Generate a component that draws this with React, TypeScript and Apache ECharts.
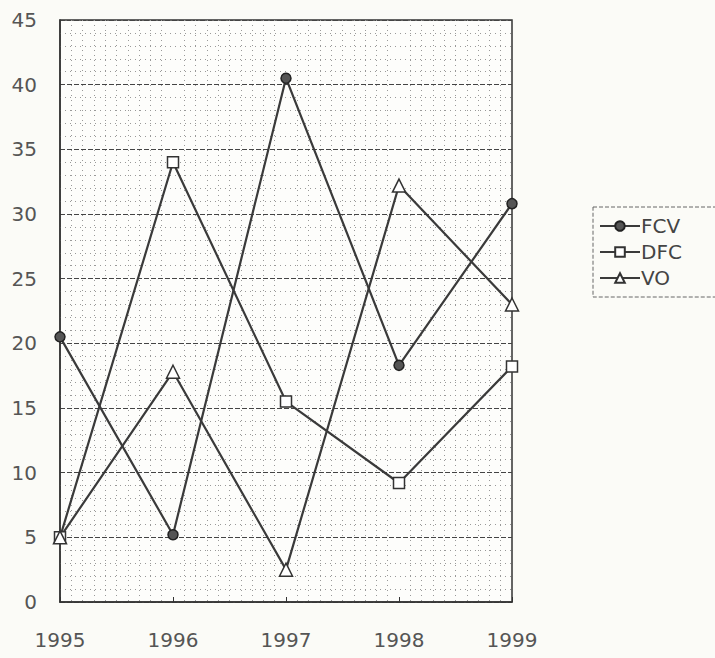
import React, { useEffect, useRef } from "react";
import * as echarts from "echarts";

const years = [1995, 1996, 1997, 1998, 1999];
const fcv = [20.5, 5.2, 40.5, 18.3, 30.8];
const dfc = [5.0, 34.0, 15.5, 9.2, 18.2];
const vo = [5.0, 17.8, 2.5, 32.2, 23.0];

const pairs = (vals: number[]) => years.map((y, i) => [y, vals[i]]);

export default function App() {
  const ref = useRef<HTMLDivElement>(null);
  useEffect(() => {
    if (!ref.current) return;
    const chart = echarts.init(ref.current, null, { renderer: "svg" });
    const lineColor = "#3a3a3a";
    const font = "'DejaVu Sans', 'Liberation Sans', sans-serif";
    chart.setOption({
      animation: false,
      backgroundColor: "#fbfbf7",
      grid: {
        left: 60,
        right: 203,
        top: 20,
        bottom: 56,
        show: true,
        borderColor: "#333",
        borderWidth: 1.5,
        backgroundColor: "#fdfdfb",
      },
      legend: {
        orient: "vertical",
        left: 593,
        top: 207,
        padding: [9, 60, 9, 6],
        itemGap: 6,
        itemWidth: 40,
        itemHeight: 12,
        borderColor: "#666",
        borderWidth: 1,
        borderType: "dashed",
        textStyle: { fontFamily: font, fontSize: 20, color: "#444", padding: [0, 0, 0, -4] },
        data: ["FCV", "DFC", "VO"],
      },
      xAxis: {
        type: "value",
        min: 1995,
        max: 1999,
        interval: 1,
        axisLine: { show: true, lineStyle: { color: "#333", width: 1.5 } },
        axisTick: { show: true, inside: true, length: 5, lineStyle: { color: "#333" } },
        axisLabel: {
          fontFamily: font,
          fontSize: 20,
          color: "#555",
          margin: 28,
          formatter: (v: number) => String(v),
        },
        splitLine: { show: false },
        minorTick: { show: false, splitNumber: 10 },
        minorSplitLine: { show: true, lineStyle: { color: "#999", type: [1, 4], width: 1 } },
      },
      yAxis: {
        type: "value",
        min: 0,
        max: 45,
        interval: 5,
        axisLine: { show: true, lineStyle: { color: "#333", width: 1.5 } },
        axisTick: { show: false },
        axisLabel: { fontFamily: font, fontSize: 20, color: "#555", margin: 23 },
        splitLine: { show: true, lineStyle: { color: "#444", type: [5, 2], width: 1 } },
        minorTick: { show: false, splitNumber: 5 },
        minorSplitLine: { show: true, lineStyle: { color: "#999", type: [1, 4], width: 1 } },
      },
      series: [
        {
          name: "FCV",
          type: "line",
          data: pairs(fcv),
          symbol: "circle",
          symbolSize: 10,
          lineStyle: { color: lineColor, width: 2.2 },
          itemStyle: { color: "#555", borderColor: "#222", borderWidth: 1.5 },
        },
        {
          name: "DFC",
          type: "line",
          data: pairs(dfc),
          symbol: "rect",
          symbolSize: 11,
          lineStyle: { color: lineColor, width: 2.2 },
          itemStyle: { color: "#fff", borderColor: "#333", borderWidth: 1.5 },
        },
        {
          name: "VO",
          type: "line",
          data: pairs(vo),
          symbol: "triangle",
          symbolSize: 13,
          lineStyle: { color: lineColor, width: 2.2 },
          itemStyle: { color: "#fff", borderColor: "#333", borderWidth: 1.5 },
        },
      ],
    });
    return () => chart.dispose();
  }, []);
  return <div ref={ref} style={{ width: 715, height: 658, position: "absolute", left: 0, top: 0 }} />;
}
